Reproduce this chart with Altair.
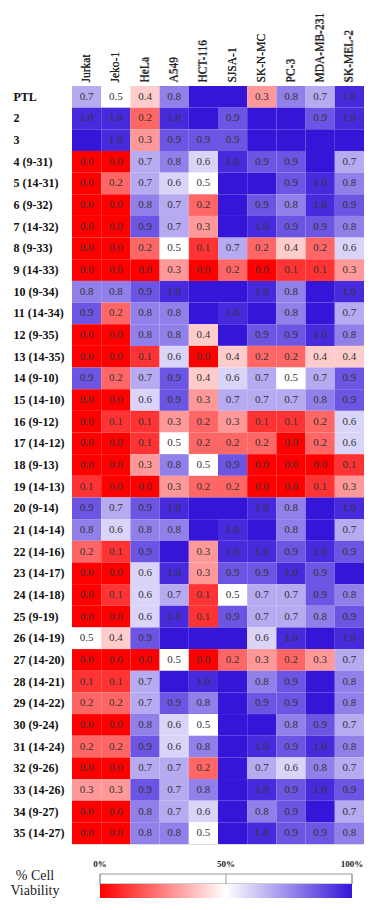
import altair as alt
import pandas as pd

cell_lines = ["Jurkat", "Jeko-1", "HeLa", "A549", "HCT-116", "SJSA-1",
              "SK-N-MC", "PC-3", "MDA-MB-231", "SK-MEL-2"]

compounds = ["PTL", "2", "3", "4 (9-31)", "5 (14-31)", "6 (9-32)", "7 (14-32)",
             "8 (9-33)", "9 (14-33)", "10 (9-34)", "11 (14-34)", "12 (9-35)",
             "13 (14-35)", "14 (9-10)", "15 (14-10)", "16 (9-12)", "17 (14-12)",
             "18 (9-13)", "19 (14-13)", "20 (9-14)", "21 (14-14)", "22 (14-16)",
             "23 (14-17)", "24 (14-18)", "25 (9-19)", "26 (14-19)", "27 (14-20)",
             "28 (14-21)", "29 (14-22)", "30 (9-24)", "31 (14-24)", "32 (9-26)",
             "33 (14-26)", "34 (9-27)", "35 (14-27)"]

N = None  # unlabelled cell: viability above 100% (deepest blue)
viability = [
    [0.7, 0.5, 0.4, 0.8, N, N, 0.3, 0.8, 0.7, 1.0],
    [1.0, 1.0, 0.2, 1.0, N, 0.9, N, N, 0.9, 1.0],
    [N, 1.0, 0.3, 0.9, 0.9, 0.9, N, N, N, N],
    [0.0, 0.0, 0.7, 0.8, 0.6, 1.0, 0.9, 0.9, N, 0.7],
    [0.0, 0.2, 0.7, 0.6, 0.5, N, N, 0.9, 1.0, 0.8],
    [0.0, 0.0, 0.8, 0.7, 0.2, N, 0.9, 0.8, 1.0, 0.9],
    [0.0, 0.0, 0.9, 0.7, 0.3, N, 1.0, 0.9, 0.9, 0.8],
    [0.0, 0.0, 0.2, 0.5, 0.1, 0.7, 0.2, 0.4, 0.2, 0.6],
    [0.0, 0.0, 0.0, 0.3, 0.0, 0.2, 0.0, 0.1, 0.1, 0.3],
    [0.8, 0.8, 0.9, 1.0, N, N, 1.0, 0.8, N, 1.0],
    [0.9, 0.2, 0.8, 0.8, N, 1.0, N, 0.8, N, 0.7],
    [0.0, 0.0, 0.8, 0.8, 0.4, N, 0.9, 0.9, 1.0, 0.8],
    [0.0, 0.0, 0.1, 0.6, 0.0, 0.4, 0.2, 0.2, 0.4, 0.4],
    [0.9, 0.2, 0.7, 0.9, 0.4, 0.6, 0.7, 0.5, 0.7, 0.9],
    [0.0, 0.0, 0.6, 0.9, 0.3, 0.7, 0.7, 0.7, 0.8, 0.9],
    [0.0, 0.1, 0.1, 0.3, 0.2, 0.3, 0.1, 0.1, 0.2, 0.6],
    [0.0, 0.0, 0.1, 0.5, 0.2, 0.2, 0.2, 0.0, 0.2, 0.6],
    [0.0, 0.0, 0.3, 0.8, 0.5, 0.9, 0.0, 0.0, 0.0, 0.1],
    [0.1, 0.0, 0.0, 0.3, 0.2, 0.2, 0.0, 0.0, 0.1, 0.3],
    [0.9, 0.7, 0.9, 1.0, N, N, 1.0, 0.8, N, 1.0],
    [0.8, 0.6, 0.8, 0.8, N, 1.0, N, 0.8, N, 0.7],
    [0.2, 0.1, 0.9, N, 0.3, 1.0, 1.0, 0.9, 1.0, 0.9],
    [0.0, 0.0, 0.6, 1.0, 0.3, 0.9, 0.9, 1.0, 0.9, N],
    [0.0, 0.1, 0.6, 0.7, 0.1, 0.5, 0.7, 0.7, 0.9, 0.8],
    [0.0, 0.0, 0.6, 1.0, 0.1, 0.9, 0.7, 0.7, 0.8, 0.9],
    [0.5, 0.4, 0.9, N, N, N, 0.6, 1.0, N, 1.0],
    [0.0, 0.0, 0.0, 0.5, 0.0, 0.2, 0.3, 0.2, 0.3, 0.7],
    [0.1, 0.1, 0.7, N, 1.0, N, 0.8, 0.9, N, 0.8],
    [0.2, 0.2, 0.7, 0.9, 0.8, N, 0.9, 0.9, N, 0.8],
    [0.0, 0.0, 0.8, 0.6, 0.5, N, N, 0.8, 0.9, 0.7],
    [0.2, 0.2, 0.9, 0.6, 0.8, N, 1.0, 0.9, 1.0, 0.8],
    [0.0, 0.0, 0.7, 0.7, 0.2, N, 0.7, 0.6, 0.8, 0.7],
    [0.3, 0.3, 0.9, 0.7, 0.8, N, 1.0, 0.9, 1.0, 0.9],
    [0.0, 0.0, 0.8, 0.7, 0.6, N, 0.8, 0.9, N, 0.7],
    [0.0, 0.0, 0.8, 0.8, 0.5, N, 1.0, 0.9, 0.9, 0.8],
]
OVER = 1.1  # colour used for unlabelled (>100%) cells, clamped to the scale top

legend_ticks = [0, 0.5, 1]
legend_title = ["% Cell", "Viability"]
RED, WHITE, BLUE = "#ff0000", "#ffffff", "#3515d8"
SERIF = "Liberation Serif"

records = []
for r, name in enumerate(compounds):
    for c, line in enumerate(cell_lines):
        v = viability[r][c]
        records.append({"compound": name, "line": line, "value": v,
                        "shade": OVER if v is None else v})
df = pd.DataFrame(records)

W, H = 292, 758

color_scale = alt.Scale(domain=[0, 0.5, 1.05], range=[RED, WHITE, BLUE],
                        interpolate="rgb", clamp=True)

base = alt.Chart(df).encode(
    x=alt.X("line:N", sort=cell_lines, title=None,
            scale=alt.Scale(paddingInner=0, paddingOuter=0),
            axis=alt.Axis(orient="top", labelAngle=-90, ticks=False, tickSize=0,
                          domain=False, labelPadding=4, labelFont=SERIF,
                          labelFontSize=11.5, labelColor="#222")),
    y=alt.Y("compound:N", sort=compounds, title=None,
            scale=alt.Scale(paddingInner=0, paddingOuter=0),
            axis=alt.Axis(ticks=False, tickSize=0, domain=False, labelAlign="left",
                          labelPadding=59, labelFont=SERIF, labelFontSize=12,
                          labelFontWeight="bold", labelColor="#111")),
)

rects = base.mark_rect().encode(
    color=alt.Color("shade:Q", scale=color_scale, legend=None)
)
labels = base.transform_filter("isValid(datum.value)").mark_text(
    font=SERIF, fontSize=11, color="#333333"
).encode(text=alt.Text("value:Q", format=".1f"))

# ---- colour bar legend (own scale, drawn below the heat map) ----
bar_df = pd.DataFrame({"x0": [0], "x1": [1]})
tick_df = pd.DataFrame({"t": legend_ticks})
lx = alt.Scale(domain=[0, 1], range=[28, 280])
BOX_T, BOX_B, GRAD_B = H + 30, H + 40, H + 54

box = alt.Chart(bar_df).mark_rect(fill="white", stroke="#999999", strokeWidth=1).encode(
    x=alt.X("x0:Q", scale=lx, axis=None), x2="x1:Q",
    y=alt.value(BOX_T), y2=alt.value(BOX_B),
)
grad = alt.Chart(bar_df).mark_rect(
    color=alt.Gradient(gradient="linear",
                       stops=[alt.GradientStop(offset=0, color=RED),
                              alt.GradientStop(offset=0.5, color=WHITE),
                              alt.GradientStop(offset=1, color=BLUE)],
                       x1=0, x2=1, y1=0, y2=0)
).encode(x=alt.X("x0:Q", scale=lx, axis=None), x2="x1:Q",
         y=alt.value(BOX_B), y2=alt.value(GRAD_B))
rules = alt.Chart(tick_df).mark_rule(color="#999999", strokeWidth=1).encode(
    x=alt.X("t:Q", scale=lx, axis=None), y=alt.value(BOX_T), y2=alt.value(BOX_B)
)
tick_text = alt.Chart(tick_df).mark_text(
    font=SERIF, fontSize=9, fontWeight="bold", color="#222", baseline="middle"
).encode(x=alt.X("t:Q", scale=lx, axis=None), y=alt.value(H + 20),
         text=alt.Text("t:Q", format=".0%"))
t1 = alt.Chart(bar_df).mark_text(text=legend_title[0], font=SERIF, fontSize=14,
                                 color="#222", baseline="middle", align="center"
                                 ).encode(x=alt.value(-37), y=alt.value(H + 32))
t2 = alt.Chart(bar_df).mark_text(text=legend_title[1], font=SERIF, fontSize=14,
                                 color="#222", baseline="middle", align="center"
                                 ).encode(x=alt.value(-37), y=alt.value(H + 47))

chart = alt.layer(rects, labels, box, grad, rules, tick_text, t1, t2).resolve_scale(
    x="independent"
).properties(
    width=W, height=H,
    autosize=alt.AutoSizeParams(type="none"),
    padding={"left": 64, "top": 78, "right": 0, "bottom": 56},
).configure_view(stroke=None).configure(font=SERIF)

chart.save("out.html", embed_options={"renderer": "svg", "actions": False})
